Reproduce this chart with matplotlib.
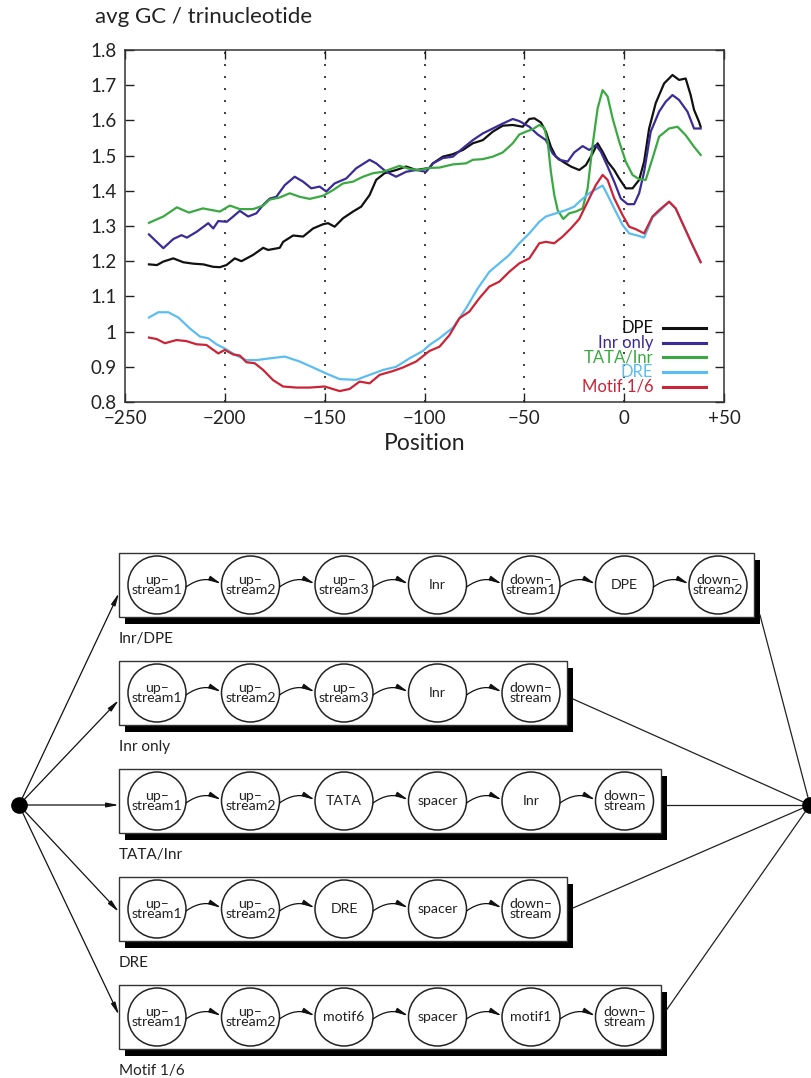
import numpy as np
import matplotlib
matplotlib.use("Agg")
import matplotlib.pyplot as plt
from matplotlib.patches import Circle, Rectangle, FancyArrowPatch

plt.rcParams['font.family'] = ['Lato', 'DejaVu Sans']

# --- curves: (position, avg GC per trinucleotide) ---
dpe = [(-238, 1.191), (-234, 1.189), (-230.8, 1.199), (-225.8, 1.208), (-220.8, 1.197),
       (-215.8, 1.193), (-210.8, 1.191), (-205.8, 1.184), (-202.5, 1.183), (-199.2, 1.189),
       (-195, 1.208), (-191.7, 1.200), (-185.8, 1.218), (-180.8, 1.238), (-178.3, 1.232),
       (-172.5, 1.238), (-170.8, 1.255), (-165.8, 1.273), (-160.8, 1.270), (-155.8, 1.293),
       (-150.8, 1.305), (-148.3, 1.308), (-145, 1.298), (-140.8, 1.322), (-135.8, 1.341),
       (-131.7, 1.355), (-127.5, 1.388), (-124.2, 1.431), (-120, 1.450), (-114.2, 1.459),
       (-109.2, 1.469), (-104.2, 1.459), (-97.5, 1.465), (-95.8, 1.478), (-90.8, 1.497),
       (-85.8, 1.504), (-80.8, 1.516), (-75.8, 1.535), (-70.8, 1.544), (-65.8, 1.568),
       (-60.8, 1.585), (-55.8, 1.587), (-50.8, 1.582), (-47.5, 1.604), (-45, 1.606),
       (-41.7, 1.594), (-39.2, 1.568), (-36.7, 1.525), (-34.2, 1.497), (-30.8, 1.483),
       (-26.7, 1.469), (-22.5, 1.459), (-19.2, 1.473), (-15.8, 1.506), (-13.3, 1.535),
       (-10.8, 1.511), (-8.3, 1.483), (-5, 1.459), (-2.5, 1.435), (0.8, 1.407),
       (4.2, 1.407), (7.5, 1.431), (10, 1.483), (12.5, 1.577), (15.8, 1.649),
       (20, 1.705), (24.2, 1.729), (27.5, 1.715), (30.8, 1.719), (33.3, 1.672),
       (35, 1.630), (37.5, 1.596), (38.3, 1.582)]

inr_only = [(-238, 1.276), (-230.8, 1.237), (-225.8, 1.263), (-221.7, 1.274), (-219, 1.267),
            (-214, 1.284), (-208.3, 1.308), (-205.8, 1.293), (-203.3, 1.314), (-199, 1.312),
            (-195.8, 1.327), (-192.5, 1.343), (-188.3, 1.327), (-184.2, 1.336), (-180.8, 1.360),
            (-177.5, 1.378), (-174.2, 1.383), (-170, 1.416), (-165, 1.440), (-160.8, 1.426),
            (-156.7, 1.407), (-152.5, 1.412), (-149.2, 1.398), (-145, 1.421), (-139.2, 1.435),
            (-134.2, 1.464), (-127.5, 1.488), (-124.2, 1.478), (-119.2, 1.454), (-114.2, 1.440),
            (-109.2, 1.454), (-104.2, 1.459), (-99.2, 1.454), (-95.8, 1.478), (-90.8, 1.493),
            (-85.8, 1.497), (-80.8, 1.521), (-75.8, 1.544), (-70.8, 1.563), (-65.8, 1.577),
            (-60.8, 1.591), (-55.8, 1.604), (-52.5, 1.598), (-47.5, 1.582), (-43.3, 1.560),
            (-39.2, 1.544), (-35.8, 1.506), (-32.5, 1.488), (-28.3, 1.483), (-25, 1.509),
            (-20.8, 1.527), (-17.5, 1.516), (-14.2, 1.530), (-11.7, 1.511), (-8.3, 1.469),
            (-5, 1.426), (-1.7, 1.378), (1.7, 1.362), (5, 1.362), (7.5, 1.393),
            (10, 1.454), (13.3, 1.568), (17.5, 1.625), (20.8, 1.653), (24.2, 1.672),
            (27.5, 1.658), (31.7, 1.625), (35, 1.577), (38.3, 1.577)]

tata_inr = [(-238, 1.309), (-230.8, 1.327), (-224, 1.353), (-218, 1.338), (-211, 1.350),
            (-202.5, 1.341), (-197.5, 1.358), (-192.5, 1.348), (-185.8, 1.348), (-180.8, 1.358),
            (-177.5, 1.375), (-172.5, 1.381), (-167.5, 1.393), (-162.5, 1.383), (-157.5, 1.377),
            (-150.8, 1.386), (-145.8, 1.402), (-140.8, 1.421), (-135.8, 1.426), (-130.8, 1.440),
            (-125.8, 1.450), (-120.8, 1.454), (-115.8, 1.464), (-112.5, 1.471), (-107.5, 1.462),
            (-102.5, 1.459), (-97.5, 1.465), (-92.5, 1.466), (-85.8, 1.475), (-79.2, 1.478),
            (-75.8, 1.488), (-70.8, 1.490), (-65.8, 1.497), (-60.8, 1.509), (-55.8, 1.535),
            (-52.5, 1.560), (-49.2, 1.568), (-45.8, 1.575), (-42.5, 1.587), (-40, 1.579),
            (-38.3, 1.539), (-36.7, 1.454), (-35, 1.388), (-33.3, 1.345), (-30.5, 1.320),
            (-27.5, 1.336), (-24.2, 1.341), (-20.8, 1.350), (-18.3, 1.407), (-15.8, 1.530),
            (-13.3, 1.634), (-10.8, 1.686), (-8.3, 1.668), (-5.8, 1.606), (-2.5, 1.540),
            (0.8, 1.483), (4.2, 1.445), (7.5, 1.433), (10.8, 1.431), (14.2, 1.492),
            (17.5, 1.554), (22.5, 1.577), (26.7, 1.582), (30.8, 1.558), (35, 1.525),
            (38.3, 1.502)]

dre = [(-238, 1.040), (-233.3, 1.055), (-228.3, 1.055), (-223.3, 1.040), (-217.5, 1.009),
       (-212.5, 0.986), (-208.3, 0.981), (-204.2, 0.964), (-200, 0.952), (-194.2, 0.932),
       (-189.2, 0.919), (-184.2, 0.919), (-177.5, 0.924), (-170, 0.929), (-162.5, 0.915),
       (-155.8, 0.898), (-149.2, 0.881), (-142.5, 0.865), (-134.2, 0.863), (-127.5, 0.877),
       (-120.8, 0.891), (-114.2, 0.900), (-107.5, 0.924), (-100.8, 0.945), (-97.5, 0.962),
       (-92.5, 0.981), (-85.8, 1.011), (-79.2, 1.066), (-73.3, 1.123), (-67.5, 1.170),
       (-62.5, 1.194), (-57.5, 1.218), (-52.5, 1.251), (-47.5, 1.279), (-42.5, 1.312),
       (-39.2, 1.327), (-34.2, 1.336), (-29.2, 1.345), (-25, 1.355), (-22.5, 1.369),
       (-17.5, 1.393), (-13.3, 1.407), (-10.8, 1.415), (-8.3, 1.388), (-5, 1.350),
       (-0.8, 1.303), (2.5, 1.279), (6.7, 1.273), (10, 1.267), (14.2, 1.324),
       (17.5, 1.341), (22.5, 1.369), (25.8, 1.350), (30, 1.298), (34.2, 1.246),
       (38.3, 1.199)]

motif16 = [(-238, 0.983), (-234.2, 0.979), (-230, 0.967), (-224.2, 0.976), (-219.2, 0.973),
           (-214.2, 0.964), (-209.2, 0.962), (-203.3, 0.938), (-200, 0.948), (-195.8, 0.935),
           (-192.5, 0.932), (-189.2, 0.913), (-185, 0.910), (-180.8, 0.891), (-175.8, 0.862),
           (-170.8, 0.844), (-164.2, 0.841), (-157.5, 0.841), (-150, 0.844), (-142.5, 0.831),
           (-137.5, 0.837), (-132.5, 0.858), (-127.5, 0.853), (-122.5, 0.877), (-115.8, 0.888),
           (-110.8, 0.898), (-104.2, 0.915), (-97.5, 0.945), (-92.5, 0.957), (-87.5, 0.990),
           (-82.5, 1.038), (-77.5, 1.057), (-72.5, 1.095), (-67.5, 1.128), (-62.5, 1.142),
           (-57.5, 1.170), (-52.5, 1.194), (-47.5, 1.208), (-42.5, 1.251), (-39.2, 1.255),
           (-35, 1.251), (-30.8, 1.270), (-26.7, 1.293), (-22.5, 1.320), (-18.3, 1.369),
           (-14.2, 1.416), (-10.8, 1.445), (-8.3, 1.431), (-5, 1.379), (-0.8, 1.331),
           (2.5, 1.298), (5.8, 1.291), (10, 1.279), (14.2, 1.327), (17.5, 1.345),
           (22.5, 1.369), (25.8, 1.350), (30, 1.298), (34.2, 1.246), (38.3, 1.197)]

series_labels = ["DPE", "Inr only", "TATA/Inr", "DRE", "Motif 1/6"]
series_colors = ["#111111", "#3b2b96", "#3aa942", "#5cbdf2", "#cc2437"]

x_ticks = [-250, -200, -150, -100, -50, 0, 50]
x_tick_labels = ["\u2212250", "\u2212200", "\u2212150", "\u2212100", "\u221250", "0", "+50"]
y_ticks = [0.8, 0.9, 1.0, 1.1, 1.2, 1.3, 1.4, 1.5, 1.6, 1.7, 1.8]
y_tick_labels = ["0.8", "0.9", "1", "1.1", "1.2", "1.3", "1.4", "1.5", "1.6", "1.7", "1.8"]
guide_positions = [-200, -150, -100, -50, 0]

# --- model diagram: one row per promoter class ---
row_names = ["Inr/DPE", "Inr only", "TATA/Inr", "DRE", "Motif 1/6"]
row_states = [
    ["up\u2013\nstream1", "up\u2013\nstream2", "up\u2013\nstream3", "Inr", "down\u2013\nstream1", "DPE", "down\u2013\nstream2"],
    ["up\u2013\nstream1", "up\u2013\nstream2", "up\u2013\nstream3", "Inr", "down\u2013\nstream"],
    ["up\u2013\nstream1", "up\u2013\nstream2", "TATA", "spacer", "Inr", "down\u2013\nstream"],
    ["up\u2013\nstream1", "up\u2013\nstream2", "DRE", "spacer", "down\u2013\nstream"],
    ["up\u2013\nstream1", "up\u2013\nstream2", "motif6", "spacer", "motif1", "down\u2013\nstream"],
]

fig = plt.figure(figsize=(8.11, 10.78), dpi=100)

# diagram drawn in pixel units over the whole figure
dg = fig.add_axes([0, 0, 1, 1])
dg.set_xlim(0, 811)
dg.set_ylim(1078, 0)
dg.axis('off')

box_left = 119
first_cx = 157
step = 93.5
radius = 29
row_cy0 = 585
row_step = 108
half_h = 32
shadow = (6, 7)
start_node = (19, 805)
end_node = (810, 805)
tip_dy = [8, 7, 4, 3, -2]
exit_dy = [30, 6, 4, -1, -7]
arrow_style = '-|>,head_length=0.8,head_width=0.15'

for i, (name, states) in enumerate(zip(row_names, row_states)):
    cy = row_cy0 + i * row_step
    right = first_cx + (len(states) - 1) * step + 36
    w = right - box_left
    dg.add_patch(Rectangle((box_left + shadow[0], cy - half_h + shadow[1]), w, 2 * half_h,
                           facecolor='black', edgecolor='black', lw=0, zorder=1))
    dg.add_patch(Rectangle((box_left, cy - half_h), w, 2 * half_h,
                           facecolor='white', edgecolor='#333333', lw=1.0, zorder=2))
    dg.text(box_left, cy + half_h + 22, name, fontsize=11, ha='left', va='center',
            color='#222222')
    for j, st in enumerate(states):
        cx = first_cx + j * step
        dg.add_patch(Circle((cx, cy), radius, facecolor='white', edgecolor='#222222',
                            lw=1.1, zorder=3))
        dg.text(cx, cy, st, fontsize=10.2, ha='center', va='center', linespacing=0.82,
                color='#222222', zorder=4)
        if j < len(states) - 1:
            arr = FancyArrowPatch((cx + radius, cy + 2), (cx + step - radius, cy - 1),
                                  connectionstyle='arc3,rad=-0.3',
                                  arrowstyle=arrow_style,
                                  mutation_scale=9, lw=0.9, color='#111111',
                                  shrinkA=0, shrinkB=0, zorder=4)
            dg.add_patch(arr)
    # entry arrow from the start node
    arr = FancyArrowPatch(start_node, (box_left, cy + tip_dy[i]),
                          arrowstyle=arrow_style,
                          mutation_scale=9, lw=0.9, color='#111111',
                          shrinkA=5, shrinkB=0, zorder=4)
    dg.add_patch(arr)
    # exit line to the end node
    dg.plot([right + shadow[0], end_node[0]], [cy + exit_dy[i], end_node[1]],
            color='#222222', lw=0.9, zorder=1)

dg.plot(*start_node, 'o', ms=11, color='black', zorder=5)
dg.plot(*end_node, 'o', ms=11, color='black', zorder=5, clip_on=False)

# --- GC profile ---
ax = fig.add_axes([125 / 811, 1 - 402 / 1078, 599 / 811, 352 / 1078])

for gx in guide_positions:
    ax.axvline(gx, color='#222222', lw=1.2, ls=(0, (1.2, 6)), zorder=1)

all_series = [dpe, inr_only, tata_inr, dre, motif16]
for data, lab, col in zip(all_series, series_labels, series_colors):
    arr = np.array(data)
    ax.plot(arr[:, 0], arr[:, 1], color=col, lw=1.6, label=lab, zorder=3)

ax.set_xlim(-250, 50)
ax.set_ylim(0.8, 1.8)
ax.set_xticks(x_ticks)
ax.set_xticklabels(x_tick_labels)
ax.set_yticks(y_ticks)
ax.set_yticklabels(y_tick_labels)
ax.tick_params(direction='in', top=True, right=True, length=6.5, width=1.0,
               labelsize=13.5, colors='#222222', pad=6)
for sp in ax.spines.values():
    sp.set_linewidth(1.1)
    sp.set_color('#333333')
ax.set_xlabel("Position", fontsize=16.5, labelpad=4, color='#222222')

# legend: right-aligned coloured labels with a line sample to their right
leg_rows = [0.210, 0.168, 0.127, 0.085, 0.044]
for lab, col, yy in zip(series_labels, series_colors, leg_rows):
    ax.plot([0.898, 0.970], [yy, yy], color=col, lw=2.2, transform=ax.transAxes,
            zorder=4)
    ax.text(0.882, yy, lab, color=col, fontsize=12, ha='right', va='center',
            transform=ax.transAxes, zorder=4)

fig.text(95 / 811, 1 - 17 / 1078, "avg GC / trinucleotide", fontsize=16,
         ha='left', va='center', color='#222222')

fig.savefig("out.png", dpi=100)
